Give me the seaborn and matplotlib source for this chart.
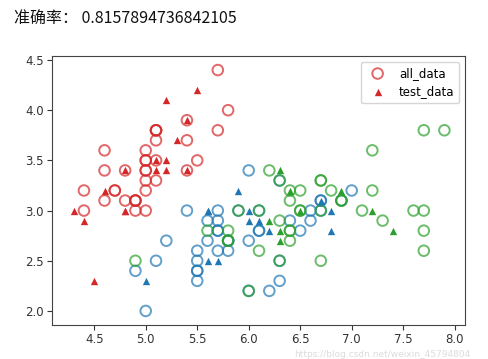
import numpy as np
import pandas as pd
import matplotlib
matplotlib.use('Agg')
import matplotlib.pyplot as plt
import seaborn as sns

# training points (hollow circles), coloured by true class
setosa_x = [4.9, 4.7, 4.6, 5.0, 4.6, 5.0, 4.9, 5.4, 5.8, 5.7, 5.4, 5.1, 5.7, 5.1, 5.1, 4.6, 5.1,
            4.8, 5.0, 5.0, 4.7, 4.8, 5.4, 4.9, 5.0, 5.5, 4.9, 4.4, 5.0, 4.4, 5.0, 5.1, 5.1, 5.0]
setosa_y = [3.0, 3.2, 3.1, 3.6, 3.4, 3.4, 3.1, 3.7, 4.0, 4.4, 3.9, 3.5, 3.8, 3.8, 3.7, 3.6, 3.3,
            3.4, 3.0, 3.4, 3.2, 3.1, 3.4, 3.1, 3.2, 3.5, 3.1, 3.0, 3.5, 3.2, 3.5, 3.8, 3.8, 3.3]

versicolor_x = [7.0, 6.9, 5.5, 6.5, 5.7, 6.3, 4.9, 6.6, 5.2, 5.0, 5.9, 6.0, 5.6, 6.7, 5.8, 6.2,
                6.1, 6.3, 6.1, 6.4, 6.6, 6.7, 5.7, 5.5, 5.5, 5.8, 6.0, 5.4, 6.0, 6.7, 6.3, 5.5,
                5.5, 6.1, 5.8, 5.6, 5.7, 5.7, 5.1, 5.7]
versicolor_y = [3.2, 3.1, 2.3, 2.8, 2.8, 3.3, 2.4, 2.9, 2.7, 2.0, 3.0, 2.2, 2.9, 3.1, 2.7, 2.2,
                2.8, 2.5, 2.8, 2.9, 3.0, 3.0, 2.6, 2.4, 2.4, 2.7, 2.7, 3.0, 3.4, 3.1, 2.3, 2.5,
                2.6, 3.0, 2.6, 2.7, 3.0, 2.9, 2.5, 2.8]

virginica_x = [6.3, 5.8, 7.1, 6.3, 7.6, 4.9, 7.3, 6.7, 7.2, 6.5, 6.4, 5.8, 6.4, 6.5, 7.7, 7.7,
               6.0, 5.6, 7.7, 6.7, 7.2, 6.1, 6.4, 7.9, 6.4, 6.1, 7.7, 6.4, 6.9, 6.9, 5.8, 6.8,
               6.7, 6.7, 6.3, 6.5, 6.2, 5.9]
virginica_y = [3.3, 2.7, 3.0, 2.9, 3.0, 2.5, 2.9, 2.5, 3.6, 3.2, 2.7, 2.8, 3.2, 3.0, 3.8, 2.6,
               2.2, 2.8, 2.8, 3.3, 3.2, 3.0, 2.8, 3.8, 2.8, 2.6, 3.0, 3.1, 3.1, 3.1, 2.7, 3.2,
               3.3, 3.0, 2.5, 3.0, 3.4, 3.0]

# test points (triangles), coloured by predicted class
test_red_x = [4.3, 4.4, 4.5, 4.6, 4.8, 4.8, 4.8, 5.1, 5.1, 5.2, 5.2, 5.2, 5.3, 5.4, 5.4, 5.5]
test_red_y = [3.0, 2.9, 2.3, 3.2, 3.4, 3.0, 3.0, 3.5, 3.4, 3.5, 3.4, 4.1, 3.7, 3.9, 3.4, 4.2]
test_blue_x = [5.0, 5.6, 5.6, 5.6, 5.7, 5.9, 6.0, 6.0, 6.1, 6.2, 6.7, 6.8, 6.8]
test_blue_y = [2.3, 3.0, 3.0, 2.5, 2.5, 3.2, 3.0, 2.9, 2.9, 2.8, 3.1, 3.0, 2.8]
test_green_x = [6.2, 6.3, 6.4, 6.3, 6.3, 6.5, 6.9, 7.2, 7.4]
test_green_y = [2.9, 3.4, 3.2, 2.8, 2.7, 3.0, 3.2, 3.0, 2.8]

accuracy = 0.8157894736842105

colors = ['tab:red', 'tab:blue', 'tab:green']

fig = plt.figure(figsize=(4.89, 3.59), dpi=100)
ax = fig.add_axes([52 / 489, 1 - 325 / 359, 413 / 489, 269 / 359])

train_sets = [(setosa_x, setosa_y), (versicolor_x, versicolor_y), (virginica_x, virginica_y)]
for (xs, ys), c in zip(train_sets, colors):
    df = pd.DataFrame({'x': xs, 'y': ys})
    sns.scatterplot(data=df, x='x', y='y', ax=ax, s=58, marker='o', color=c,
                    facecolor='none', edgecolor=c, linewidth=1.4, alpha=0.7, legend=False)

test_sets = [(test_red_x, test_red_y), (test_blue_x, test_blue_y), (test_green_x, test_green_y)]
for (xs, ys), c in zip(test_sets, colors):
    df = pd.DataFrame({'x': xs, 'y': ys})
    sns.scatterplot(data=df, x='x', y='y', ax=ax, s=28, marker='^', color=c,
                    edgecolor=c, linewidth=0, legend=False)

ax.set_xlim(4.09, 8.10)
ax.set_ylim(1.86, 4.54)
ax.set_xticks(np.arange(4.5, 8.01, 0.5))
ax.set_yticks(np.arange(2.0, 4.51, 0.5))
ax.set_xlabel('')
ax.set_ylabel('')
ax.tick_params(labelsize=8.5, colors='#333333', pad=2.5)
for sp in ax.spines.values():
    sp.set_color('#444444')

ax.legend([ax.collections[0], ax.collections[3]], ['all_data', 'test_data'],
          loc='upper right', fontsize=8.5, scatterpoints=1)

fig.text(14 / 489, 1 - 19 / 359, '准确率： ' + str(accuracy), fontsize=11.5,
         family=['Noto Sans CJK SC', 'DejaVu Sans'], va='center', ha='left', color='#111111')
# faint watermark, kept just under the tick labels
fig.text(470 / 489, 0, 'https://blog.csdn.net/weixin_45794804', fontsize=6.5,
         color='#d8d8d8', va='bottom', ha='right', alpha=0.9)

fig.savefig('out.png', dpi=100)
